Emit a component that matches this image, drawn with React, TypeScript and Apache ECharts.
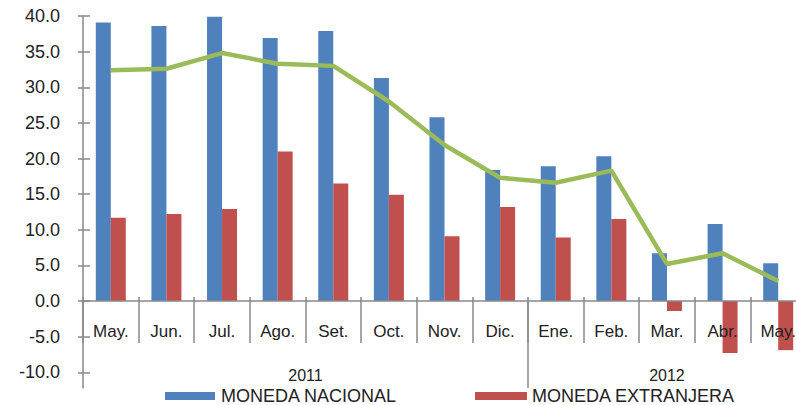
import React, { useEffect, useRef } from "react";
import * as echarts from "echarts";

const months = ["May.", "Jun.", "Jul.", "Ago.", "Set.", "Oct.", "Nov.", "Dic.", "Ene.", "Feb.", "Mar.", "Abr.", "May."];
const years = ["2011", "2012"];
const yearSpans = [8, 5];
const monedaNacional = [39.1, 38.6, 39.9, 36.9, 37.9, 31.3, 25.8, 18.4, 18.9, 20.3, 6.7, 10.8, 5.3];
const monedaExtranjera = [11.7, 12.2, 12.9, 21.0, 16.5, 14.9, 9.1, 13.2, 8.9, 11.5, -1.4, -7.3, -6.9];
const total = [32.4, 32.6, 34.8, 33.3, 33.0, 28.0, 21.9, 17.3, 16.6, 18.3, 5.2, 6.7, 2.8];
const yTicks = [-10, -5, 0, 5, 10, 15, 20, 25, 30, 35, 40];

const FONT = "Liberation Sans, Arial, sans-serif";
const TXT = "#222";
const AXIS = "#898989";
const Y_MIN = -12.21;
const Y_MAX = 40;
const GRID_TOP = 16;
const GRID_BOTTOM = 17;
const H = 405;

export default function App() {
  const ref = useRef<HTMLDivElement>(null);
  useEffect(() => {
    if (!ref.current) return;
    const chart = echarts.init(ref.current, null, { renderer: "svg" });

    const n = months.length;
    const yearAxisData: string[] = new Array(2 * n + 1).fill("");
    const dividers: number[] = [];
    let start = 0;
    years.forEach((y, i) => {
      yearAxisData[start * 2 + yearSpans[i]] = y;
      if (i > 0) dividers.push(start * 2);
      start += yearSpans[i];
    });

    const gridH = H - GRID_TOP - GRID_BOTTOM;
    const zeroOffset = -(gridH * (0 - Y_MIN)) / (Y_MAX - Y_MIN);

    chart.setOption({
      animation: false,
      grid: { left: 83, right: -10, top: GRID_TOP, bottom: GRID_BOTTOM, containLabel: false, outerBoundsMode: "none" },
      legend: [
        {
          data: ["MONEDA NACIONAL"],
          left: 160,
          top: 382,
          itemWidth: 50,
          itemHeight: 8,
          icon: "rect",
          textStyle: { fontFamily: FONT, fontSize: 18, color: TXT, padding: [0, 0, 0, 1] },
        },
        {
          data: ["MONEDA EXTRANJERA"],
          left: 470,
          top: 382,
          itemWidth: 52,
          itemHeight: 8,
          icon: "rect",
          textStyle: { fontFamily: FONT, fontSize: 18, color: TXT, padding: [0, 0, 0, 0] },
        },
      ],
      xAxis: [
        {
          type: "category",
          data: months,
          position: "bottom",
          offset: zeroOffset,
          z: 10,
          axisLine: { onZero: false, lineStyle: { color: AXIS, width: 1.5 } },
          axisTick: { show: true, interval: 0, length: 42, lineStyle: { color: AXIS, width: 1.5 } },
          axisLabel: { interval: 0, margin: 22, fontFamily: FONT, fontSize: 17, color: TXT, hideOverlap: false },
          splitLine: { show: false },
        },
        {
          type: "category",
          data: months,
          position: "bottom",
          offset: zeroOffset,
          axisLine: { show: false, onZero: false },
          axisTick: { show: true, interval: 0, inside: true, length: 4, lineStyle: { color: AXIS, width: 1.5 } },
          axisLabel: { show: false },
          splitLine: { show: false },
        },
        {
          type: "category",
          data: yearAxisData,
          boundaryGap: false,
          position: "bottom",
          offset: zeroOffset,
          axisLine: { show: false, onZero: false },
          axisTick: {
            show: true,
            interval: (idx: number) => dividers.indexOf(idx) >= 0,
            length: 87,
            lineStyle: { color: AXIS, width: 1.5 },
          },
          axisLabel: { interval: 0, margin: 66, fontFamily: FONT, fontSize: 16, color: TXT, hideOverlap: false },
          splitLine: { show: false },
        },
      ],
      yAxis: [
        {
          type: "value",
          min: Y_MIN,
          max: Y_MAX,
          position: "left",
          axisLine: { show: true, lineStyle: { color: AXIS, width: 1.5 } },
          axisTick: { show: true, length: 5, customValues: yTicks, lineStyle: { color: AXIS, width: 1.5 } },
          axisLabel: {
            customValues: yTicks,
            margin: 23,
            fontFamily: FONT,
            fontSize: 18,
            color: TXT,
            formatter: (v: number) => v.toFixed(1),
          },
          splitLine: { show: false },
        },
        {
          type: "value",
          min: Y_MIN,
          max: Y_MAX,
          position: "left",
          axisLine: { show: false },
          axisTick: { show: true, inside: true, length: 7, customValues: yTicks, lineStyle: { color: AXIS, width: 1.5 } },
          axisLabel: { show: false },
          splitLine: { show: false },
        },
      ],
      series: [
        {
          name: "MONEDA NACIONAL",
          type: "bar",
          data: monedaNacional,
          barWidth: 15,
          barGap: "0%",
          itemStyle: { color: "#4F81BD" },
        },
        {
          name: "MONEDA EXTRANJERA",
          type: "bar",
          data: monedaExtranjera,
          barWidth: 15,
          barGap: "0%",
          itemStyle: { color: "#C0504D" },
        },
        {
          name: "TOTAL",
          type: "line",
          data: total,
          showSymbol: false,
          symbol: "none",
          lineStyle: { color: "#9BBB59", width: 4.5 },
          itemStyle: { color: "#9BBB59" },
          z: 5,
        },
      ],
    });
    return () => chart.dispose();
  }, []);
  return (
    <div
      ref={ref}
      style={{ position: "fixed", left: 0, top: 0, width: 796, height: 405, background: "#fff" }}
    />
  );
}
